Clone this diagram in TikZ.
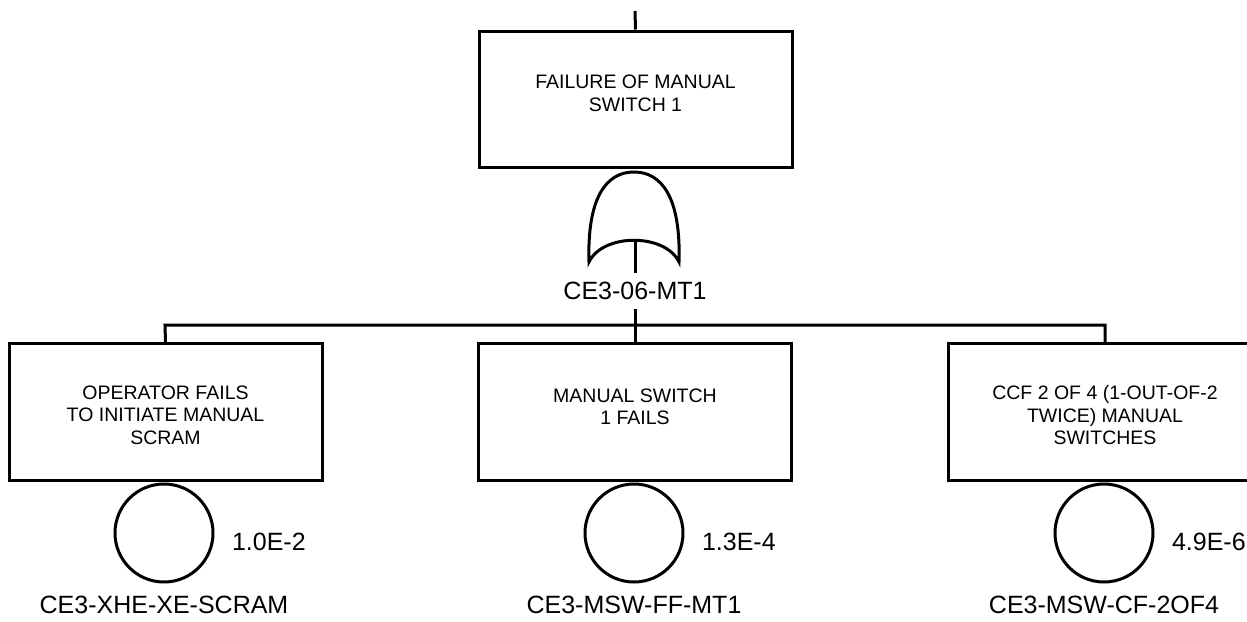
\documentclass[tikz,border=0pt]{standalone}
\usepackage{fontspec}
\setmainfont{Liberation Sans}
\usetikzlibrary{calc}
\begin{document}
\begin{tikzpicture}[x=1pt,y=-1pt,line width=3pt,line join=miter,
  ftbox/.style={draw,rectangle,minimum width=313pt,minimum height=137pt,inner sep=0pt},
  boxtext/.style={anchor=north,align=center,inner sep=0pt,font=\fontsize{19.5}{22.5}\selectfont},
  basicev/.style={draw,circle,minimum size=98pt,inner sep=0pt},
  idlabel/.style={font=\fontsize{25}{30}\selectfont,inner sep=0pt},
  problabel/.style={font=\fontsize{25}{30}\selectfont,inner sep=0pt,anchor=west}]
\useasboundingbox (0,0) rectangle (1247,621);
\clip (0,0) rectangle (1247,621);

% top event
\coordinate (topin) at (635,11);
\node[ftbox,minimum height=136pt] (top) at (635.5,99) {};
\node[boxtext] (toptxt) at ($(top.north)+(0,44)$) {FAILURE OF MANUAL\\SWITCH 1};
\draw (topin) -- (top.north);

% OR gate
\draw (589,262) .. controls (587,198) and (606,172) .. (634,172)
      .. controls (662,172) and (681,198) .. (679,262)
      .. controls (665,233) and (603,233) .. (589,262) -- cycle;
\coordinate (gin) at (635,240);
\node[idlabel,inner ysep=7.5pt] (orlbl) at (635,291) {CE3-06-MT1};
\draw (gin) -- (orlbl.north);

% bus
\coordinate (bus) at (635,325);
\coordinate (busL) at (165,325);
\coordinate (busR) at (1105,325);
\draw (orlbl.south) -- (bus);

% lower boxes
\node[ftbox] (b1) at (165.5,412) {};
\node[ftbox] (b2) at (635,412) {};
\node[ftbox] (b3) at (1105,412) {};
\node[boxtext] (t1) at ($(b1.north)+(0,42)$) {OPERATOR FAILS\\TO INITIATE MANUAL\\SCRAM};
\node[boxtext] (t2) at ($(b2.north)+(0,45)$) {MANUAL SWITCH\\1 FAILS};
\node[boxtext] (t3) at ($(b3.north)+(0,42)$) {CCF 2 OF 4 (1-OUT-OF-2\\TWICE) MANUAL\\SWITCHES};

\draw (b1.north) -- (busL) -- (busR) -- (b3.north);
\draw (bus) -- (b2.north);

% basic events
\node[basicev] (c1) at (164,533) {};
\node[basicev] (c2) at (634,533) {};
\node[basicev] (c3) at (1104,533) {};

\node[problabel] (p1) at ($(c1.east)+(16,9)$) {1.0E-2};
\node[problabel] (p2) at ($(c2.east)+(16,9)$) {1.3E-4};
\node[problabel] (p3) at ($(c3.east)+(16,9)$) {4.9E-6};

\node[idlabel] (l1) at ($(c1.center)+(0,72)$) {CE3-XHE-XE-SCRAM};
\node[idlabel] (l2) at ($(c2.center)+(0,72)$) {CE3-MSW-FF-MT1};
\node[idlabel] (l3) at ($(c3.center)+(0,72)$) {CE3-MSW-CF-2OF4};
\end{tikzpicture}
\end{document}
